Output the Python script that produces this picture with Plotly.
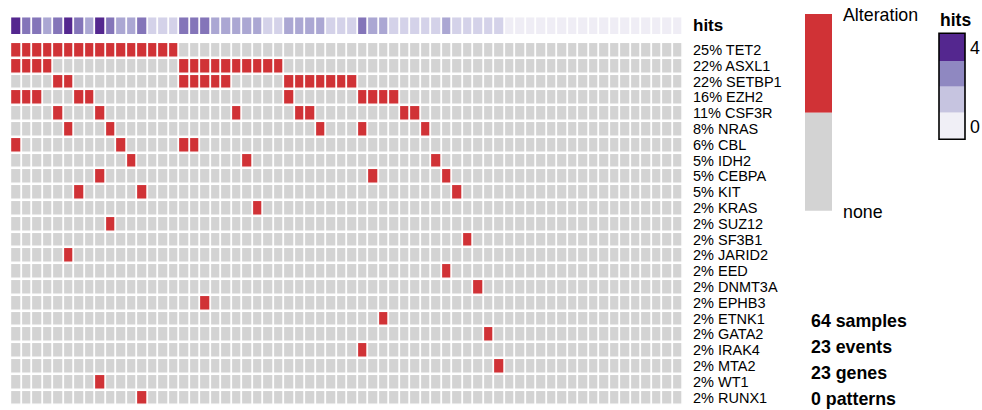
import plotly.graph_objects as go

W, H = 982, 410
N_SAMPLES = 64

genes = ["TET2", "ASXL1", "SETBP1", "EZH2", "CSF3R", "NRAS", "CBL", "IDH2", "CEBPA", "KIT",
         "KRAS", "SUZ12", "SF3B1", "JARID2", "EED", "DNMT3A", "EPHB3", "ETNK1", "GATA2",
         "IRAK4", "MTA2", "WT1", "RUNX1"]

# sample (column) indices carrying an alteration, per gene
altered_samples = [
    list(range(0, 16)),                                   # TET2
    [0, 1, 2, 3] + list(range(16, 26)),                   # ASXL1
    [4, 5] + list(range(16, 21)) + list(range(26, 33)),   # SETBP1
    [0, 1, 2, 6, 7, 26, 33, 34, 35, 36],                  # EZH2
    [4, 8, 21, 27, 28, 37, 38],                           # CSF3R
    [5, 9, 29, 33, 39],                                   # NRAS
    [0, 10, 16, 17],                                      # CBL
    [11, 22, 40],                                         # IDH2
    [8, 34, 41],                                          # CEBPA
    [6, 12, 42],                                          # KIT
    [23],                                                 # KRAS
    [9],                                                  # SUZ12
    [43],                                                 # SF3B1
    [5],                                                  # JARID2
    [41],                                                 # EED
    [44],                                                 # DNMT3A
    [18],                                                 # EPHB3
    [35],                                                 # ETNK1
    [45],                                                 # GATA2
    [33],                                                 # IRAK4
    [46],                                                 # MTA2
    [8],                                                  # WT1
    [12],                                                 # RUNX1
]

summary_lines = ["64 samples", "23 events", "23 genes", "0 patterns"]

RED = "#D03236"
GREY = "#D3D3D3"
HIT_COLORS = ["#EFEDF5", "#D4D2E9", "#ABA7D3", "#8475B9", "#54278F"]
LEG_HIT_COLORS = ["#54278F", "#8F88C1", "#C6C4E0", "#F0EFF6"]
FONT = "Liberation Sans, Arial, Helvetica, sans-serif"
BIG = 17.8


def px(x):
    return x / W


def py(y):
    return 1 - y / H


samples = list(range(N_SAMPLES))
rows = list(range(len(genes)))
z = [[1 if s in altered_samples[g] else 0 for s in samples] for g in rows]
hits = [sum(z[g][s] for g in rows) for s in samples]

fig = go.Figure()

fig.add_trace(go.Heatmap(
    z=z, x=samples, y=rows,
    colorscale=[[0, GREY], [0.5, GREY], [0.5, RED], [1, RED]],
    zmin=0, zmax=1, showscale=False, xgap=1.8, ygap=2.5,
    hoverinfo="skip", xaxis="x", yaxis="y"))

n = len(HIT_COLORS)
hit_scale = []
for i, c in enumerate(HIT_COLORS):
    hit_scale.append([i / n, c])
    hit_scale.append([(i + 1) / n, c])
fig.add_trace(go.Heatmap(
    z=[hits], x=samples, y=[0],
    colorscale=hit_scale, zmin=-0.5, zmax=4.5, showscale=False,
    xgap=1.8, ygap=0, hoverinfo="skip", xaxis="x", yaxis="y2"))

x0, x1 = 11.1, 683.1
ytop, ybot = 42.05, 42.05 + 23 * 15.8

annotations = []
for g in rows:
    pct = round(len(altered_samples[g]) / N_SAMPLES * 100)
    annotations.append(dict(x=px(691), xref="paper", y=g, yref="y",
                            text=f"{pct}% {genes[g]}", showarrow=False,
                            xanchor="left", yanchor="middle",
                            font=dict(family=FONT, size=14.5, color="black")))
annotations.append(dict(x=px(690.5), xref="paper", y=0, yref="y2", text="<b>hits</b>",
                        showarrow=False, xanchor="left", yanchor="middle",
                        font=dict(family=FONT, size=17, color="black")))

# Alteration legend
shapes = [
    dict(type="rect", xref="paper", yref="paper", x0=px(805), x1=px(832),
         y0=py(112.7), y1=py(14), fillcolor=RED, line=dict(width=0)),
    dict(type="rect", xref="paper", yref="paper", x0=px(805), x1=px(832),
         y0=py(210.7), y1=py(112.7), fillcolor=GREY, line=dict(width=0)),
]
annotations.append(dict(x=px(841), xref="paper", y=py(15), yref="paper", text="Alteration",
                        showarrow=False, xanchor="left", yanchor="middle",
                        font=dict(family=FONT, size=BIG, color="black")))
annotations.append(dict(x=px(841), xref="paper", y=py(212), yref="paper", text="none",
                        showarrow=False, xanchor="left", yanchor="middle",
                        font=dict(family=FONT, size=BIG, color="black")))

# hits legend
band_edges = [33.3, 61, 86.7, 112.7, 139.3]
for i, c in enumerate(LEG_HIT_COLORS):
    shapes.append(dict(type="rect", xref="paper", yref="paper", x0=px(939), x1=px(965),
                       y0=py(band_edges[i + 1]), y1=py(band_edges[i]),
                       fillcolor=c, line=dict(width=0)))
shapes.append(dict(type="rect", xref="paper", yref="paper", x0=px(939), x1=px(965),
                   y0=py(139.3), y1=py(33.3), fillcolor="rgba(0,0,0,0)",
                   line=dict(color="black", width=1.6)))
annotations.append(dict(x=px(938), xref="paper", y=py(20), yref="paper", text="<b>hits</b>",
                        showarrow=False, xanchor="left", yanchor="middle",
                        font=dict(family=FONT, size=17.5, color="black")))
annotations.append(dict(x=px(968), xref="paper", y=py(47.5), yref="paper", text="4",
                        showarrow=False, xanchor="left", yanchor="middle",
                        font=dict(family=FONT, size=BIG, color="black")))
annotations.append(dict(x=px(968), xref="paper", y=py(126.5), yref="paper", text="0",
                        showarrow=False, xanchor="left", yanchor="middle",
                        font=dict(family=FONT, size=BIG, color="black")))

for i, t in enumerate(summary_lines):
    annotations.append(dict(x=px(809), xref="paper", y=py(321 + i * 26), yref="paper",
                            text=f"<b>{t}</b>", showarrow=False, xanchor="left",
                            yanchor="middle",
                            font=dict(family=FONT, size=BIG, color="black")))

fig.update_layout(
    width=W, height=H,
    margin=dict(l=0, r=0, t=0, b=0),
    paper_bgcolor="white", plot_bgcolor="white",
    showlegend=False,
    xaxis=dict(domain=[px(x0), px(x1)], range=[-0.5, N_SAMPLES - 0.5],
               showgrid=False, zeroline=False, showticklabels=False, ticks=""),
    yaxis=dict(domain=[py(ybot), py(ytop)], range=[len(genes) - 0.5, -0.5],
               showgrid=False, zeroline=False, showticklabels=False, ticks=""),
    yaxis2=dict(domain=[py(34), py(17.3)], range=[-0.5, 0.5],
                showgrid=False, zeroline=False, showticklabels=False, ticks=""),
    shapes=shapes,
    annotations=annotations,
)

fig.write_html("out.html", config={"displayModeBar": False, "staticPlot": True})

# remove the browser's default body margin so the figure sits at the page origin
with open("out.html", "r", encoding="utf-8") as f:
    html = f.read()
html = html.replace("<head>", "<head><style>html,body{margin:0;padding:0;overflow:hidden;}</style>", 1)
with open("out.html", "w", encoding="utf-8") as f:
    f.write(html)
